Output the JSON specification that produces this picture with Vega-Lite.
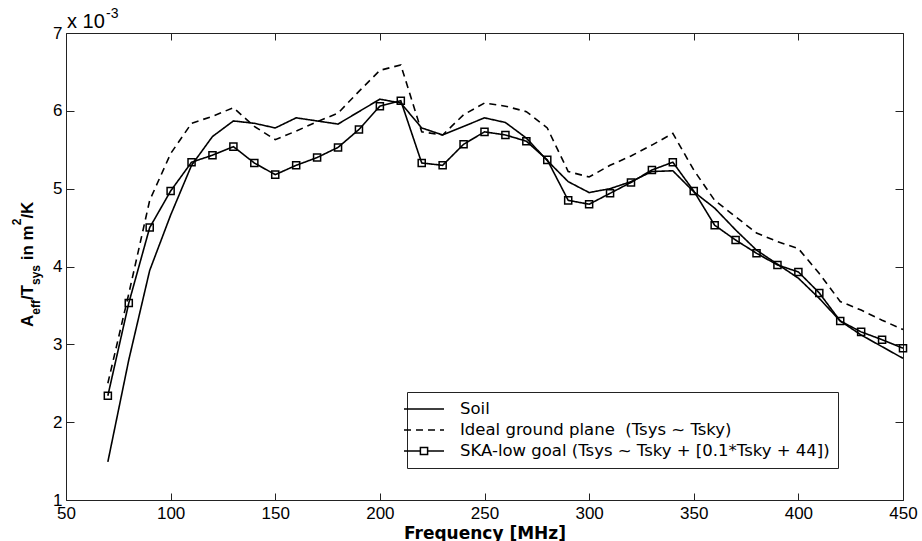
{
  "$schema": "https://vega.github.io/schema/vega-lite/v6.json",
  "width": 837,
  "height": 467,
  "autosize": "none",
  "padding": {"left": 66, "top": 33, "right": 19, "bottom": 41},
  "background": "white",
  "config": {"view": {"stroke": "#222", "strokeWidth": 1}, "font": "Liberation Sans"},
  "data": {"values": [
    {"f": 70, "soil": 1.49, "ideal": 2.50, "ska": 2.34},
    {"f": 80, "soil": 2.80, "ideal": 3.65, "ska": 3.53},
    {"f": 90, "soil": 3.95, "ideal": 4.85, "ska": 4.50},
    {"f": 100, "soil": 4.66, "ideal": 5.45, "ska": 4.97},
    {"f": 110, "soil": 5.30, "ideal": 5.84, "ska": 5.34},
    {"f": 120, "soil": 5.67, "ideal": 5.93, "ska": 5.43},
    {"f": 130, "soil": 5.87, "ideal": 6.04, "ska": 5.54},
    {"f": 140, "soil": 5.84, "ideal": 5.80, "ska": 5.33},
    {"f": 150, "soil": 5.78, "ideal": 5.63, "ska": 5.18},
    {"f": 160, "soil": 5.91, "ideal": 5.74, "ska": 5.30},
    {"f": 170, "soil": 5.87, "ideal": 5.86, "ska": 5.40},
    {"f": 180, "soil": 5.83, "ideal": 5.97, "ska": 5.53},
    {"f": 190, "soil": 5.99, "ideal": 6.25, "ska": 5.76},
    {"f": 200, "soil": 6.15, "ideal": 6.52, "ska": 6.06},
    {"f": 210, "soil": 6.10, "ideal": 6.59, "ska": 6.13},
    {"f": 220, "soil": 5.78, "ideal": 5.73, "ska": 5.33},
    {"f": 230, "soil": 5.69, "ideal": 5.69, "ska": 5.30},
    {"f": 240, "soil": 5.80, "ideal": 5.95, "ska": 5.57},
    {"f": 250, "soil": 5.91, "ideal": 6.10, "ska": 5.73},
    {"f": 260, "soil": 5.85, "ideal": 6.06, "ska": 5.69},
    {"f": 270, "soil": 5.65, "ideal": 5.99, "ska": 5.61},
    {"f": 280, "soil": 5.36, "ideal": 5.78, "ska": 5.37},
    {"f": 290, "soil": 5.09, "ideal": 5.22, "ska": 4.85},
    {"f": 300, "soil": 4.95, "ideal": 5.15, "ska": 4.80},
    {"f": 310, "soil": 5.00, "ideal": 5.30, "ska": 4.94},
    {"f": 320, "soil": 5.09, "ideal": 5.42, "ska": 5.08},
    {"f": 330, "soil": 5.22, "ideal": 5.56, "ska": 5.24},
    {"f": 340, "soil": 5.23, "ideal": 5.71, "ska": 5.34},
    {"f": 350, "soil": 4.96, "ideal": 5.24, "ska": 4.97},
    {"f": 360, "soil": 4.75, "ideal": 4.85, "ska": 4.53},
    {"f": 370, "soil": 4.47, "ideal": 4.64, "ska": 4.34},
    {"f": 380, "soil": 4.21, "ideal": 4.43, "ska": 4.17},
    {"f": 390, "soil": 4.03, "ideal": 4.32, "ska": 4.02},
    {"f": 400, "soil": 3.85, "ideal": 4.23, "ska": 3.93},
    {"f": 410, "soil": 3.59, "ideal": 3.91, "ska": 3.66},
    {"f": 420, "soil": 3.30, "ideal": 3.55, "ska": 3.30},
    {"f": 430, "soil": 3.12, "ideal": 3.44, "ska": 3.16},
    {"f": 440, "soil": 2.97, "ideal": 3.31, "ska": 3.06},
    {"f": 450, "soil": 2.82, "ideal": 3.19, "ska": 2.95}
  ]},
  "layer": [
    {
      "transform": [{"fold": ["soil", "ideal", "ska"], "as": ["s", "v"]}],
      "mark": {"type": "line", "color": "black", "strokeWidth": 1.6},
      "encoding": {
        "x": {"field": "f", "type": "quantitative",
          "scale": {"domain": [50, 450], "nice": false, "zero": false},
          "axis": {"values": [50, 100, 150, 200, 250, 300, 350, 400, 450], "title": "Frequency [MHz]", "grid": false, "domain": false,
            "tickSize": -7, "tickColor": "#222", "labelFont": "Liberation Sans", "labelFontSize": 17, "labelColor": "black", "labelPadding": 12,
            "labelFlush": false, "labelOverlap": false,
            "titleFont": "DejaVu Sans", "titleFontSize": 17, "titleFontWeight": "bold", "titleColor": "black",
            "titleY": 25, "titleBaseline": "top"}},
        "y": {"field": "v", "type": "quantitative",
          "scale": {"domain": [1, 7], "nice": false, "zero": false},
          "axis": {"values": [1, 2, 3, 4, 5, 6, 7], "title": null, "grid": false, "domain": false,
            "tickSize": -8, "tickColor": "#222", "labelFont": "Liberation Sans", "labelFontSize": 17, "labelColor": "black", "labelPadding": 12,
            "labelFlush": false, "labelOverlap": false}},
        "strokeDash": {"field": "s", "type": "nominal",
          "scale": {"domain": ["soil", "ideal", "ska"], "range": [[1, 0], [7, 5], [1, 0]]},
          "legend": {"orient": "none", "legendX": 341, "legendY": 359, "title": null,
            "strokeColor": "#222", "fillColor": "white", "padding": 8,
            "labelFont": "DejaVu Sans", "labelFontSize": 16.5, "labelColor": "black", "labelLimit": 600, "labelOffset": 27,
            "symbolSize": 256, "symbolStrokeWidth": 1.5, "symbolStrokeColor": "black", "symbolFillColor": "transparent",
            "rowPadding": 3,
            "labelExpr": "datum.value === 'soil' ? '\u00a0Soil' : datum.value === 'ideal' ? 'Ideal ground plane\u00a0 (Tsys ~ Tsky)' : 'SKA-low goal (Tsys ~ Tsky + [0.1*Tsky + 44])'",
            "encode": {"symbols": {"update": {"shape": {"signal": "datum.value === 'ska' ? 'M-2.5,0H-0.45M0.45,0H2.5M-0.45,-0.45H0.45V0.45H-0.45Z' : 'M-2.5,0H2.5'"}}}}}
        }
      }
    },
    {
      "transform": [{"fold": ["ska"], "as": ["s", "v"]}],
      "mark": {"type": "point", "shape": "square", "filled": false, "size": 50, "stroke": "black", "strokeWidth": 1.5, "opacity": 1},
      "encoding": {
        "x": {"field": "f", "type": "quantitative", "axis": null},
        "y": {"field": "v", "type": "quantitative", "axis": null}
      }
    },
    {
      "transform": [{"fold": ["soil"], "as": ["s", "v"]}],
      "mark": {"type": "point", "opacity": 0},
      "encoding": {
        "x": {"field": "f", "type": "quantitative",
          "axis": {"orient": "top", "values": [50, 100, 150, 200, 250, 300, 350, 400, 450], "labels": false, "title": null, "grid": false, "domain": false, "tickSize": -7, "tickColor": "#222"}},
        "y": {"field": "v", "type": "quantitative",
          "axis": {"orient": "right", "values": [1, 2, 3, 4, 5, 6, 7], "labels": false, "title": null, "grid": false, "domain": false, "tickSize": -8, "tickColor": "#222"}}
      }
    },
    {
      "data": {"values": [{}]},
      "layer": [
        {"mark": {"type": "text", "text": "A", "angle": 270, "align": "left", "baseline": "alphabetic", "font": "Liberation Sans", "fontWeight": "bold", "fontSize": 17, "color": "black", "dx": -60.5, "dy": -33}, "encoding": {}},
        {"mark": {"type": "text", "text": "eff", "angle": 270, "align": "left", "baseline": "alphabetic", "font": "Liberation Sans", "fontWeight": "bold", "fontSize": 12, "color": "black", "dx": -48.2, "dy": -26}, "encoding": {}},
        {"mark": {"type": "text", "text": "/T", "angle": 270, "align": "left", "baseline": "alphabetic", "font": "Liberation Sans", "fontWeight": "bold", "fontSize": 17, "color": "black", "dx": -33.6, "dy": -33}, "encoding": {}},
        {"mark": {"type": "text", "text": "sys", "angle": 270, "align": "left", "baseline": "alphabetic", "font": "Liberation Sans", "fontWeight": "bold", "fontSize": 12, "color": "black", "dx": -18.5, "dy": -26}, "encoding": {}},
        {"mark": {"type": "text", "text": "in m", "angle": 270, "align": "left", "baseline": "alphabetic", "font": "Liberation Sans", "fontWeight": "bold", "fontSize": 17, "color": "black", "dx": 6.2, "dy": -33}, "encoding": {}},
        {"mark": {"type": "text", "text": "2", "angle": 270, "align": "left", "baseline": "alphabetic", "font": "Liberation Sans", "fontWeight": "bold", "fontSize": 12, "color": "black", "dx": 41.2, "dy": -45}, "encoding": {}},
        {"mark": {"type": "text", "text": "/K", "angle": 270, "align": "left", "baseline": "alphabetic", "font": "Liberation Sans", "fontWeight": "bold", "fontSize": 17, "color": "black", "dx": 47.9, "dy": -33}, "encoding": {}}
      ],
      "encoding": {
        "x": {"datum": 50, "type": "quantitative", "axis": null},
        "y": {"datum": 4, "type": "quantitative", "axis": null}
      }
    },
    {
      "data": {"values": [{}]},
      "layer": [
        {"mark": {"type": "text", "text": "x 10", "align": "left", "baseline": "alphabetic", "font": "Liberation Sans", "fontSize": 20, "color": "black", "dx": 1, "dy": -5}, "encoding": {}},
        {"mark": {"type": "text", "text": "-3", "align": "left", "baseline": "alphabetic", "font": "Liberation Sans", "fontSize": 14, "color": "black", "dx": 40, "dy": -15}, "encoding": {}}
      ],
      "encoding": {
        "x": {"datum": 50, "type": "quantitative", "axis": null},
        "y": {"datum": 7, "type": "quantitative", "axis": null}
      }
    }
  ],
  "resolve": {"axis": {"x": "independent", "y": "independent"}}
}
